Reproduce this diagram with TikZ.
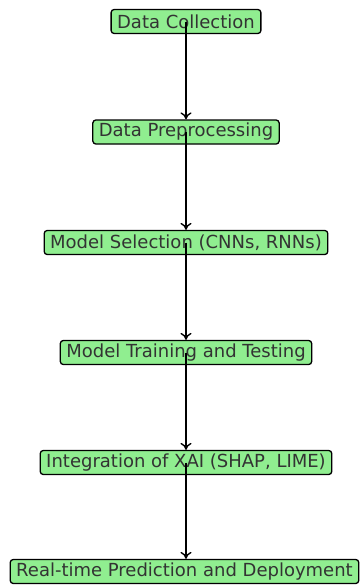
\documentclass[tikz,border=0pt]{standalone}
\usepackage{fontspec}
\setmainfont{DejaVu Sans}
\usetikzlibrary{arrows.meta}
\definecolor{boxgreen}{HTML}{90EE90}
\definecolor{txtgray}{HTML}{333333}
\tikzset{
  stagebox/.style={draw=black, fill=boxgreen, rounded corners=3pt, line width=1.3pt,
    text=txtgray, font=\fontsize{18pt}{20pt}\selectfont, inner xsep=6pt,
    minimum height=24pt, inner ysep=0pt, anchor=center},
  flow/.style={line width=1.4pt, -{To[length=7pt,width=11pt]}}
}
\begin{document}
\begin{tikzpicture}[x=1pt,y=1pt]
\useasboundingbox (0,0) rectangle (361,-587);
\node[stagebox] (n1) at (186,-21.5) {Data Collection};
\node[stagebox] (n2) at (186,-132) {Data Preprocessing};
\node[stagebox] (n3) at (186,-242.5) {Model Selection (CNNs, RNNs)};
\node[stagebox] (n4) at (186,-352.5) {Model Training and Testing};
\node[stagebox] (n5) at (186,-462.5) {Integration of XAI (SHAP, LIME)};
\node[stagebox] (n6) at (184.5,-571.5) {Real-time Prediction and Deployment};
\draw[flow] (n1.center) -- (n1.center |- n2.north);
\draw[flow] (n2.center) -- (n2.center |- n3.north);
\draw[flow] (n3.center) -- (n3.center |- n4.north);
\draw[flow] (n4.center) -- (n4.center |- n5.north);
\draw[flow] (n5.center) -- (n5.center |- n6.north);
\end{tikzpicture}
\end{document}
